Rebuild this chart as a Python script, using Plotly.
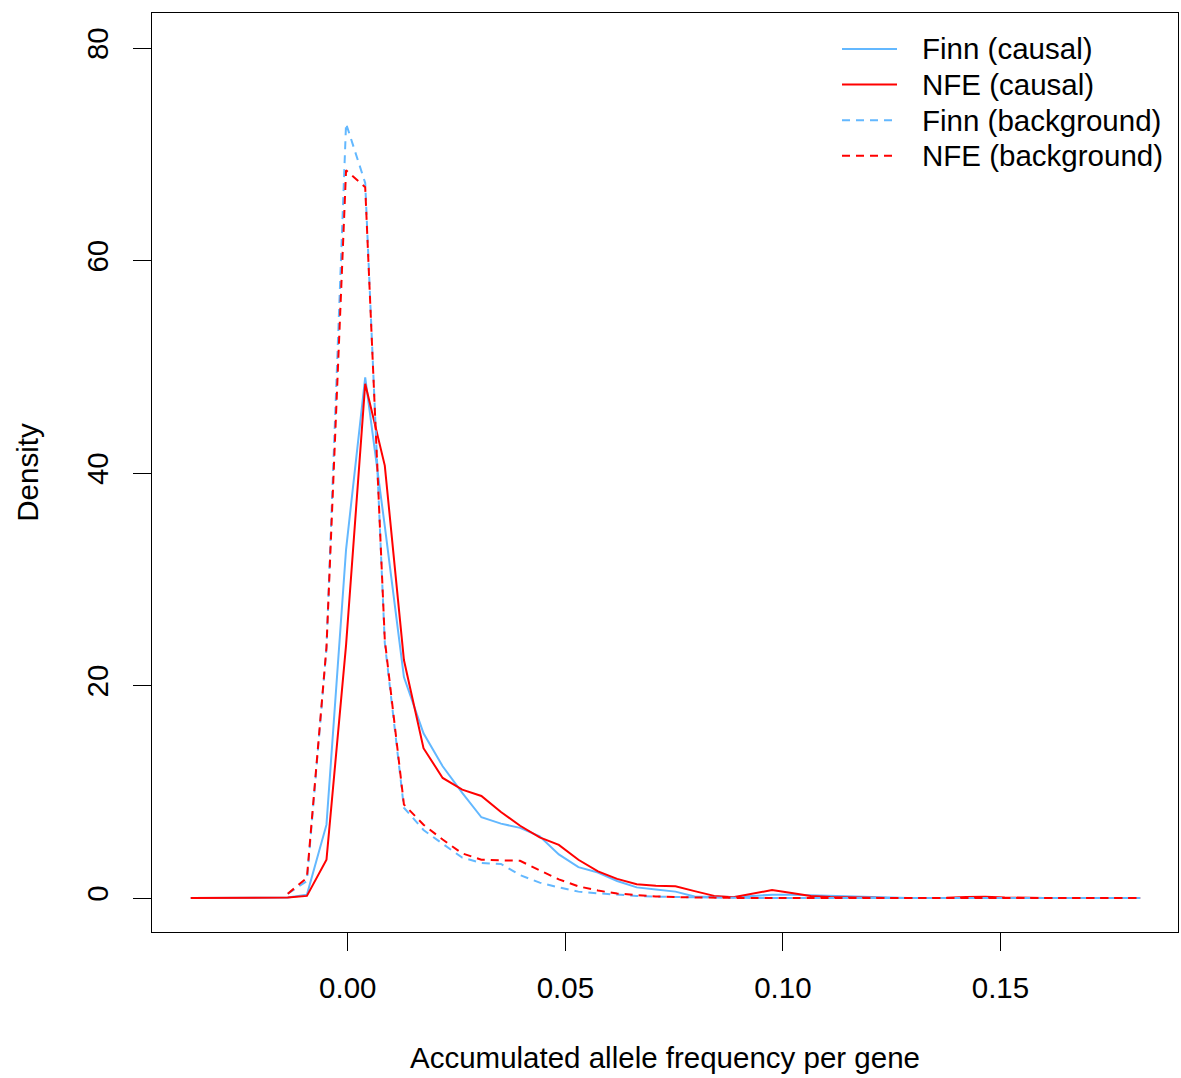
import plotly.graph_objects as go

# Evaluation grid (accumulated allele frequency per gene)
x_grid = [-0.0361, -0.0316, -0.0272, -0.0227, -0.0183, -0.0138, -0.0094, -0.0049,
          -0.0004, 0.0040, 0.0085, 0.0129, 0.0174, 0.0218, 0.0263, 0.0307,
          0.0352, 0.0396, 0.0441, 0.0485, 0.0530, 0.0575, 0.0619, 0.0664,
          0.0708, 0.0753, 0.0797, 0.0842, 0.0886, 0.0931, 0.0975, 0.1020,
          0.1064, 0.1109, 0.1153, 0.1198, 0.1242, 0.1287, 0.1331, 0.1376,
          0.1421, 0.1465, 0.1510, 0.1554, 0.1599, 0.1643, 0.1688, 0.1732,
          0.1777, 0.1821]

finn_causal = [0, 0, 0, 0, 0, 0.05, 0.3, 6.9,
               32.8, 49.0, 35.0, 20.8, 15.5, 12.4, 9.9, 7.6,
               7.0, 6.6, 5.8, 4.1, 2.9, 2.4, 1.6, 1.0,
               0.8, 0.6, 0.15, 0.1, 0.1, 0.2, 0.3, 0.3,
               0.25, 0.2, 0.1, 0.05, 0.02, 0.01, 0.0, 0.0,
               0.05, 0.05, 0.02, 0.0, 0.0, 0.0, 0.0, 0.0,
               0.0, 0.0]

nfe_causal = [0, 0, 0, 0, 0, 0.05, 0.2, 3.6,
              23.8, 48.4, 40.7, 22.4, 14.1, 11.3, 10.2, 9.6,
              8.1, 6.8, 5.7, 5.0, 3.6, 2.5, 1.8, 1.3,
              1.15, 1.1, 0.65, 0.2, 0.07, 0.4, 0.75, 0.48,
              0.2, 0.1, 0.05, 0.02, 0.01, 0.0, 0.0, 0.02,
              0.1, 0.12, 0.05, 0.0, 0.0, 0.0, 0.0, 0.0,
              0.0, 0.0]

# Background densities start at the 6th grid point
bg_start = 5
finn_background = [0.4, 1.6, 23.5,
                   72.9, 67.3, 24.0, 8.5, 6.4, 5.1, 3.8, 3.3,
                   3.2, 2.15, 1.45, 1.0, 0.6, 0.44, 0.3, 0.2,
                   0.12, 0.08, 0.05, 0.03, 0.02, 0.01, 0.01, 0.0,
                   0.0, 0.0, 0.0, 0.0, 0.0, 0.0, 0.0, 0.0,
                   0.0, 0.0, 0.0, 0.0, 0.0, 0.0, 0.0, 0.0,
                   0.0, 0.0]

nfe_background = [0.4, 1.9, 23.6,
                  68.5, 66.9, 24.3, 8.8, 6.9, 5.5, 4.2, 3.6,
                  3.55, 3.5, 2.6, 1.75, 1.1, 0.7, 0.42, 0.25,
                  0.15, 0.08, 0.04, 0.02, 0.01, 0.01, 0.0, 0.0,
                  0.0, 0.0, 0.0, 0.0, 0.0, 0.0, 0.0, 0.0,
                  0.0, 0.0, 0.0, 0.0, 0.0, 0.0, 0.0, 0.0,
                  0.0, 0.0]

series_names = ["Finn (causal)", "NFE (causal)", "Finn (background)", "NFE (background)"]

x_ticks = [0.0, 0.05, 0.10, 0.15]
x_tick_labels = ["0.00", "0.05", "0.10", "0.15"]
y_ticks = [0, 20, 40, 60, 80]
y_tick_labels = ["0", "20", "40", "60", "80"]

BLUE = "#63B8FF"
RED = "#FF0000"
DASH = "8px,6px"
FONT = "Liberation Sans, Arial, Helvetica, sans-serif"
FS = 29.5

styles = [
    dict(color=BLUE, width=2),
    dict(color=RED, width=2),
    dict(color=BLUE, width=2, dash=DASH),
    dict(color=RED, width=2, dash=DASH),
]
xs = [x_grid, x_grid, x_grid[bg_start:], x_grid[bg_start:]]
ys = [finn_causal, nfe_causal, finn_background, nfe_background]

fig = go.Figure()
for name, xv, yv, st in zip(series_names, xs, ys, styles):
    fig.add_trace(go.Scatter(x=xv, y=yv, mode="lines", name=name,
                             line=st, showlegend=False))

# Legend drawn R-style (line sample + label), in paper coordinates
PLOT_L, PLOT_W, PLOT_B, PLOT_H = 152, 1026, 932, 919
leg_x0 = (842 - PLOT_L) / PLOT_W
leg_x1 = (897 - PLOT_L) / PLOT_W
leg_tx = (920 - PLOT_L) / PLOT_W
leg_top, leg_step = 49, 35.6
for i, (name, st) in enumerate(zip(series_names, styles)):
    yp = (PLOT_B - (leg_top + i * leg_step)) / PLOT_H
    fig.add_shape(type="line", xref="paper", yref="paper",
                  x0=leg_x0, x1=leg_x1, y0=yp, y1=yp,
                  line=dict(color=st["color"], width=st["width"],
                            dash=st.get("dash", "solid")))
    fig.add_annotation(xref="paper", yref="paper", x=leg_tx, y=yp,
                       xanchor="left", yanchor="middle", showarrow=False,
                       text=name, font=dict(family=FONT, size=FS, color="black"))

fig.update_layout(
    width=1181, height=1078,
    margin=dict(l=152, r=3, t=13, b=146, autoexpand=False),
    paper_bgcolor="white", plot_bgcolor="white",
    font=dict(family=FONT, size=FS, color="black"),
    showlegend=False,
)
fig.update_xaxes(
    range=[-0.0450, 0.1908], showgrid=False, zeroline=False,
    showline=True, mirror=True, linecolor="black", linewidth=1.2,
    tickmode="array", tickvals=x_ticks, ticktext=x_tick_labels,
    ticks="outside", ticklen=18, tickwidth=1.2, tickcolor="black",
    ticklabelstandoff=11, automargin=False,
    title=dict(text="Accumulated allele frequency per gene",
               font=dict(family=FONT, size=FS), standoff=44),
)
fig.update_yaxes(
    range=[-3.2, 83.3], showgrid=False, zeroline=False,
    showline=True, mirror=True, linecolor="black", linewidth=1.2,
    tickmode="array", tickvals=y_ticks, ticktext=y_tick_labels,
    ticks="outside", ticklen=18, tickwidth=1.2, tickcolor="black",
    tickangle=-90, ticklabelstandoff=13, automargin=False,
    title=dict(text="Density", font=dict(family=FONT, size=FS), standoff=33),
)

fig.write_html("out.html")
